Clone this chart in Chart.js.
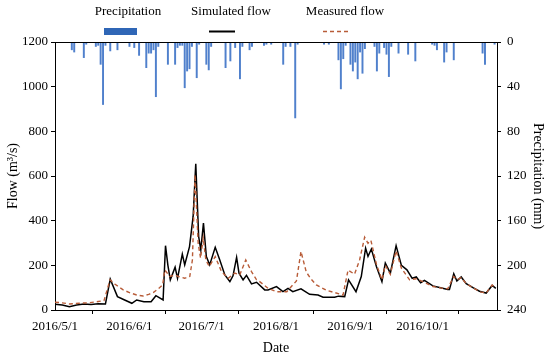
<!DOCTYPE html>
<html>
<head>
<meta charset="utf-8">
<script src="https://cdn.jsdelivr.net/npm/chart.js@4.4.1/dist/chart.umd.min.js"></script>
<style>
html,body{margin:0;padding:0;background:#fff;}
#wrap{width:550px;height:357px;position:relative;}
</style>
</head>
<body>
<div id="wrap"><canvas id="c" width="550" height="357"></canvas></div>
<script>
// Day offsets from 2016/5/1
const tickDays = [0, 31, 61, 92, 123, 153];
const tickLabels = ['2016/5/1', '2016/6/1', '2016/7/1', '2016/8/1', '2016/9/1', '2016/10/1'];

const simDays = [0,3,6,9,12,15,18,21,23,26,29,32,34,37,40,42,45,46,47,48,50,51,53,54,56,57.5,58.6,59.8,60.7,61.8,63,64.4,66.7,68.6,70.7,72.8,74.1,75.6,76.6,78.3,79.7,81.8,83.9,87.3,88.7,92.2,94.9,97,99,102.4,106,109.5,111.6,116.4,118,120.6,122.2,125.3,127.5,129.3,130.3,131.7,133.8,136.1,137.5,139.6,142,144.2,146.5,148.7,150.4,152.2,153.8,157.3,160.5,163.5,164.2,166,167.3,169.1,171.2,174,176.7,179.5,182,183.5];
const simFlow = [26,22,15,22,27,25,28,27,138,60,45,30,45,37,37,64,45,288,200,135,192,142,250,202,284,419,655,329,269,389,239,202,281,224,157,127,153,236,165,135,155,117,124,90,90,105,82,97,82,95,70,67,57,57,62,60,135,82,150,277,240,273,195,127,210,165,288,200,180,142,148,122,133,108,100,92,92,162,130,148,118,100,84,76,110,97];

const measDays = [0,3,6,10,14.6,18,20.4,22.9,25,28.4,31,34,36.7,39,40.9,43,44.8,45.7,47.8,49.9,51.3,54,56.1,57.2,58.3,59.6,60.6,61.7,62.8,64.2,66.7,69.3,72.1,74.8,76.9,79.4,81.8,83.9,85.2,88.7,92.2,96.5,98.4,100.5,102.4,104.6,106.5,108.8,113,116.4,119.9,122,124.7,126.8,128.9,130.3,131.5,133.8,136.1,137.5,139.6,142,144.2,147.6,150.4,153.1,157.3,161.5,163.5,165.9,167.3,169.1,171.2,174,176.7,179.5,182,183.5];
const measFlow = [35,32,27,30,33,38,42,135,115,90,78,67,63,70,78,95,112,179,150,157,150,142,150,224,606,299,232,322,224,195,239,172,142,165,157,224,172,135,127,97,82,82,105,130,262,170,140,112,88,78,67,179,160,224,326,299,312,205,135,200,160,265,187,135,140,127,105,97,95,150,135,145,118,100,82,76,112,97];

const precipDays = [7,8,12,13,17,18,19,20,21,23,26,31,33,35,38,39,40,41,42,43,47,50,51,52,53,54,55,56,57,59,60,63,64,65,71,73,75,77,78,81,82,87,88,90,95,96,98,100,101,112,114,118,119,120,121,123,124,125,126,127,128,129,133,134,135,137,138,139,140,143,147,150,157,158,159,162,163,166,178,179,183];
const precipMM = [7,9,14,2,4,3,20,56,3,8,7,4,5,12,23,10,10,7,49,4,20,20,5,3,3,41,26,24,4,32,2,20,25,4,23,17,5,33,4,7,4,3,2,2,20,4,4,68,2,2,2,16,42,15,3,20,26,18,33,9,28,6,4,26,10,5,11,31,4,10,11,17,2,3,7,18,9,16,10,20,2];

const serif = '"Liberation Serif", "Times New Roman", serif';
const pts = (xs, ys) => xs.map((x, i) => ({x: x, y: ys[i]}));

const legendPlugin = {
  id: 'customLegend',
  afterDraw(chart) {
    const ctx = chart.ctx;
    const a = chart.chartArea;
    ctx.save();
    ctx.strokeStyle = '#000';
    ctx.lineWidth = 1;
    ctx.beginPath();
    ctx.moveTo(a.left, Math.round(a.top) + 0.5);
    ctx.lineTo(a.right, Math.round(a.top) + 0.5);
    ctx.stroke();
    ctx.font = '13px ' + serif;
    ctx.fillStyle = '#000';
    ctx.textAlign = 'center';
    ctx.textBaseline = 'middle';
    ctx.fillText('Precipitation', 128, 12);
    ctx.fillText('Simulated flow', 231, 12);
    ctx.fillText('Measured flow', 345, 12);
    ctx.fillStyle = '#2f66b6';
    ctx.fillRect(104, 28, 33, 7);
    ctx.strokeStyle = '#000';
    ctx.lineWidth = 2;
    ctx.beginPath(); ctx.moveTo(209, 31.5); ctx.lineTo(235, 31.5); ctx.stroke();
    ctx.strokeStyle = '#b85c38';
    ctx.lineWidth = 1.5;
    ctx.setLineDash([4, 3]);
    ctx.beginPath(); ctx.moveTo(323, 31.5); ctx.lineTo(350, 31.5); ctx.stroke();
    ctx.restore();
  }
};

new Chart(document.getElementById('c'), {
  type: 'bar',
  data: {
    datasets: [
      {
        type: 'line', label: 'Measured flow', data: pts(measDays, measFlow),
        borderColor: '#b85c38', borderWidth: 1.4, borderDash: [4, 3],
        pointRadius: 0, tension: 0, yAxisID: 'y', order: 0
      },
      {
        type: 'line', label: 'Simulated flow', data: pts(simDays, simFlow),
        borderColor: '#000', borderWidth: 1.5,
        pointRadius: 0, tension: 0, yAxisID: 'y', order: 1
      },
      {
        type: 'bar', label: 'Precipitation', data: pts(precipDays, precipMM),
        backgroundColor: '#5080cc', barThickness: 1.3, yAxisID: 'y2', order: 2
      }
    ]
  },
  options: {
    responsive: false,
    animation: false,
    layout: { padding: { left: 0, right: 0, top: 42, bottom: 0 } },
    plugins: { legend: { display: false }, tooltip: { enabled: false } },
    scales: {
      x: {
        type: 'linear', min: 0, max: 184, offset: false,
        afterBuildTicks: s => { s.ticks = tickDays.map(v => ({value: v})); },
        afterFit: s => { s.height = 47; },
        ticks: {
          autoSkip: false, maxRotation: 0, padding: 5, color: '#000',
          font: { family: serif, size: 13 },
          callback: v => { const i = tickDays.indexOf(v); return i >= 0 ? tickLabels[i] : ''; }
        },
        grid: { display: true, drawOnChartArea: false, drawTicks: true, tickLength: 4, color: '#000' },
        border: { display: true, color: '#000', width: 1 },
        title: { display: true, text: 'Date', color: '#000', font: { family: serif, size: 14 }, padding: { top: 0, bottom: 0 } }
      },
      y: {
        position: 'left', min: 0, max: 1200,
        afterFit: s => { s.width = 55; },
        ticks: { stepSize: 200, padding: 3, color: '#000', font: { family: serif, size: 13 }, callback: v => String(v) },
        grid: { display: true, drawOnChartArea: false, drawTicks: true, tickLength: 4, color: '#000' },
        border: { display: true, color: '#000', width: 1 },
        title: { display: true, text: 'Flow (m³/s)', color: '#000', font: { family: serif, size: 14 }, padding: { top: 5, bottom: 0 } }
      },
      y2: {
        position: 'right', min: 0, max: 240, reverse: true,
        afterFit: s => { s.width = 53; },
        ticks: { stepSize: 40, padding: 6, color: '#000', font: { family: serif, size: 13 }, callback: v => String(v) },
        grid: { display: true, drawOnChartArea: false, drawTicks: true, tickLength: 4, color: '#000' },
        border: { display: true, color: '#000', width: 1 },
        title: { display: true, text: 'Precipitation (mm)', color: '#000', font: { family: serif, size: 14 }, padding: { top: 4, bottom: 0 } }
      }
    }
  },
  plugins: [legendPlugin]
});
</script>
</body>
</html>
